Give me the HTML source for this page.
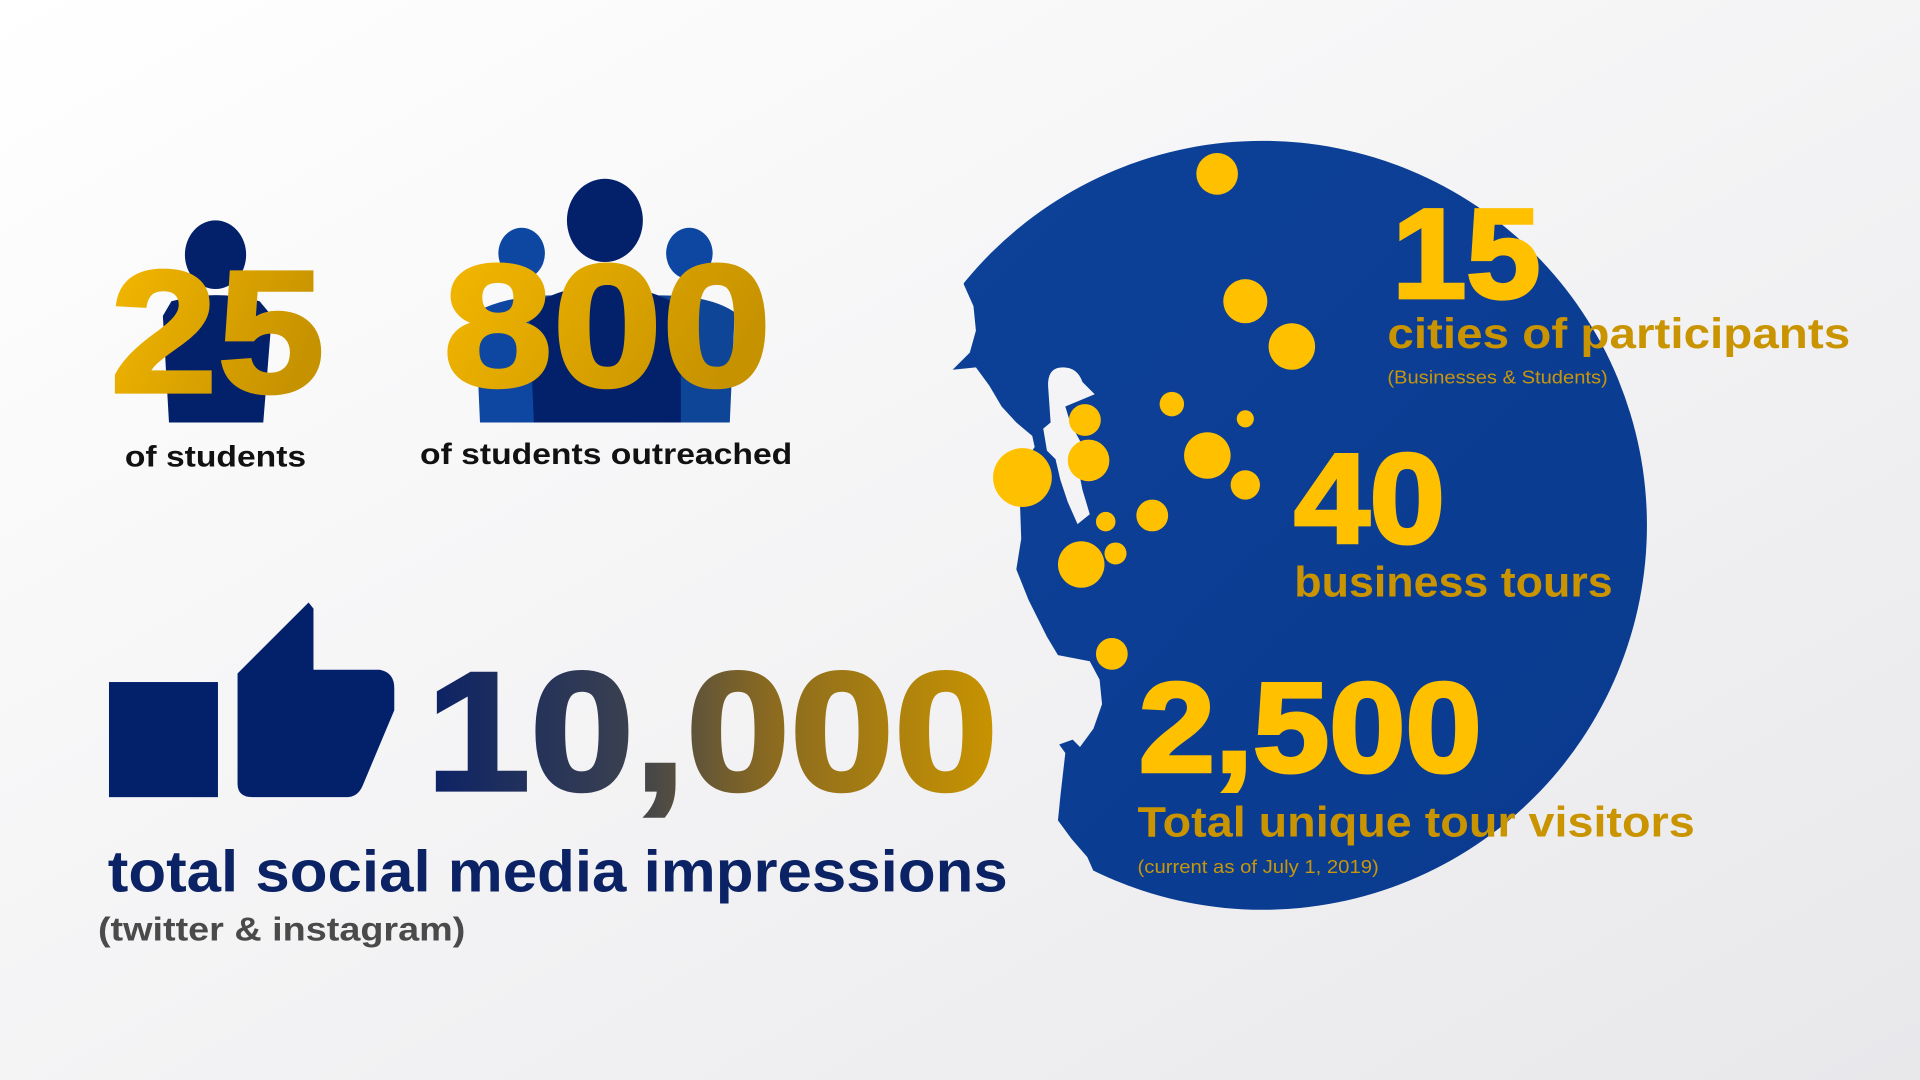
<!DOCTYPE html>
<html><head><meta charset="utf-8">
<style>
html,body{margin:0;padding:0;width:1920px;height:1080px;overflow:hidden;}
svg{display:block;font-family:"Liberation Sans",sans-serif;font-weight:bold;}
</style></head>
<body>
<svg id="chart" width="1920" height="1080" viewBox="0 0 1568 882" xmlns="http://www.w3.org/2000/svg">
<defs>
<linearGradient id="bg" x1="0" y1="0" x2="1" y2="1"><stop offset="0" stop-color="#ffffff"/><stop offset="1" stop-color="#e8e8eb"/></linearGradient>
<linearGradient id="gold" x1="0" y1="0" x2="1" y2="0.4"><stop offset="0" stop-color="#f6b900"/><stop offset="1" stop-color="#c69200"/></linearGradient>
<linearGradient id="navygold" x1="0" y1="0" x2="1" y2="0"><stop offset="0" stop-color="#0b2266"/><stop offset="0.35" stop-color="#3a4050"/><stop offset="0.6" stop-color="#8a6a20"/><stop offset="1" stop-color="#c99400"/></linearGradient>
<linearGradient id="circ" x1="0" y1="0" x2="1" y2="1"><stop offset="0" stop-color="#0d4299"/><stop offset="1" stop-color="#093a8e"/></linearGradient>
<mask id="faceMask" maskUnits="userSpaceOnUse" x="0" y="0" width="1568" height="882">
<rect width="1568" height="882" fill="#fff"/>
<path fill="#000" d="M700 100 L790 205 L787 232 L795 250 L797 270 L792 288 L778 302 L797 300 L808 315 L818 332 L830 345 L843 356 L845 365 L836 378 L832 395 L833 412 L834 440 L830 465 L840 490 L855 520 L864 535 L890 540 L898 555 L900 575 L893 595 L882 610 L876 604 L865 608 L870 615 L866 650 L864 670 L875 685 L888 700 L895 716 L700 800 Z"/>
<path fill="#000" d="M856 316 Q855 300 868 300 Q880 300 884 312 L894 322 L870 332 L874 345 L882 360 L880 380 L884 400 L890 420 L880 428 L872 410 L866 392 L862 375 L855 368 L852 350 L858 345 Z"/>
</mask>
</defs>
<rect width="1568" height="882" fill="url(#bg)"/>

<circle cx="1031" cy="429" r="314" fill="url(#circ)" mask="url(#faceMask)"/>
<g id="dots"></g>
<g id="stats"></g>

<g fill="#03206b">
<ellipse cx="176" cy="208" rx="25" ry="28"/>
<path d="M140 246 Q176 236 212 246 L222 258 L215 345 L138 345 L133 258 Z"/>
</g>
<g>
<ellipse cx="426" cy="207" rx="19" ry="21" fill="#0d47a1"/>
<ellipse cx="563" cy="207" rx="19" ry="21" fill="#0d47a1"/>
<path d="M388 255 Q420 238 470 242 L470 345 L392 345 Z" fill="#0d47a1"/>
<path d="M520 242 Q575 238 600 255 L596 345 L520 345 Z" fill="#0f4596"/>
<ellipse cx="494" cy="180" rx="31" ry="34" fill="#03206b"/>
<path d="M432 250 Q494 215 556 250 L556 345 L436 345 Z" fill="#03206b"/>
</g>
<text x="90" y="320" font-size="142" fill="url(#gold)" stroke="url(#gold)" stroke-width="3" textLength="175" lengthAdjust="spacingAndGlyphs">25</text>
<text x="102" y="381" font-size="24" fill="#111" textLength="148" lengthAdjust="spacingAndGlyphs">of students</text>
<text x="362" y="315" font-size="142" fill="url(#gold)" stroke="url(#gold)" stroke-width="3" textLength="268" lengthAdjust="spacingAndGlyphs">800</text>
<text x="343" y="379" font-size="24" fill="#111" textLength="304" lengthAdjust="spacingAndGlyphs">of students outreached</text>

<g fill="#03206b">
<rect x="89" y="557" width="89" height="94"/>
<path d="M194 550 L252 492 L256 497 L256 547 L310 547 Q322 549 322 562 L322 580 L296 642 Q292 651 283 651 L206 651 Q194 651 194 640 Z"/>
</g>
<text x="348" y="645" font-size="138" fill="url(#navygold)" stroke="url(#navygold)" stroke-width="3" textLength="467" lengthAdjust="spacingAndGlyphs">10,000</text>
<text x="88" y="728" font-size="48" fill="#0b2265" textLength="735" lengthAdjust="spacingAndGlyphs">total social media impressions</text>
<text x="80" y="768" font-size="27" fill="#4a4a4a" textLength="300" lengthAdjust="spacingAndGlyphs">(twitter &amp; instagram)</text>
</svg>
<script>
const dotX=[994,1017,1055,957,1017,886,889,986,1017,835,941,903,911,883,908];
const dotY=[142,246,283,330,342,343,376,372,396,390,421,426,452,461,534];
const dotR=[17,18,19,10,7,13,17,19,12,24,13,8,9,19,13];
const statValues=["15","40","2,500"];
const statLabels=["cities of participants","business tours","Total unique tour visitors"];
const statNotes=["(Businesses & Students)","","(current as of July 1, 2019)"];
const NS="http://www.w3.org/2000/svg";
const dg=document.getElementById('dots');
for(let i=0;i<dotX.length;i++){
  const c=document.createElementNS(NS,'circle');
  c.setAttribute('cx',dotX[i]);c.setAttribute('cy',dotY[i]);c.setAttribute('r',dotR[i]);
  c.setAttribute('fill','#ffc000');
  
  
  dg.appendChild(c);
}
const layout=[{x:1137,vy:243,vw:121,lx:1133,ly:284,lw:378,ny:313,nw:180},
              {x:1057,vy:443,vw:123,lx:1057,ly:487,lw:260,ny:0,nw:0},
              {x:930,vy:630,vw:280,lx:929,ly:683,lw:455,ny:713,nw:197}];
const sg=document.getElementById('stats');
function txt(s,x,y,size,fill,w){
  const t=document.createElementNS(NS,'text');
  t.setAttribute('x',x);t.setAttribute('y',y);t.setAttribute('font-size',size);t.setAttribute('fill',fill);
  t.setAttribute('textLength',w);t.setAttribute('lengthAdjust','spacingAndGlyphs');
  t.textContent=s;sg.appendChild(t);return t;
}
for(let i=0;i<statValues.length;i++){
  const L=layout[i];
  const v=txt(statValues[i],L.x,L.vy,104,'#ffc000',L.vw);
  v.setAttribute('stroke','#ffc000');
  v.setAttribute('stroke-width','3');
  
  
  const l=txt(statLabels[i],L.lx,L.ly,35,'#c99400',L.lw);
  
  
  if(statNotes[i]){
    const n=txt(statNotes[i],L.lx,L.ny,15,'#c8960a',L.nw);
    n.setAttribute('font-weight','normal');
    
    
  }
}
</script>
</body></html>
